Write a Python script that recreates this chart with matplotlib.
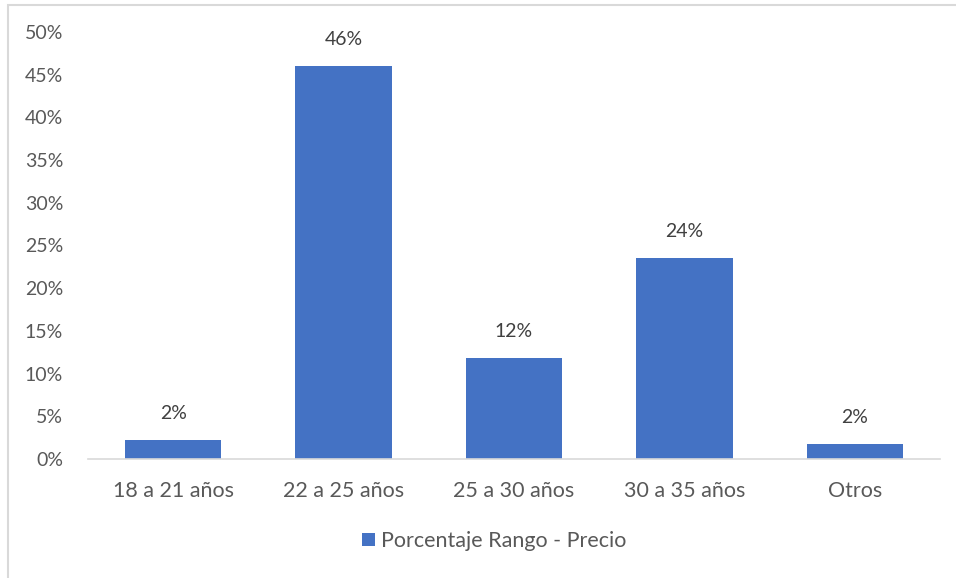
import matplotlib.pyplot as plt
from matplotlib.patches import Rectangle

# Datos del gráfico
categorias = ['18 a 21 años', '22 a 25 años', '25 a 30 años', '30 a 35 años', 'Otros']
porcentajes = [2.2, 46.0, 11.8, 23.5, 1.8]
serie = 'Porcentaje Rango - Precio'
ticks_y = [0, 5, 10, 15, 20, 25, 30, 35, 40, 45, 50]

plt.rcParams['font.family'] = ['Lato', 'DejaVu Sans']
gris = '#595959'
azul = '#4472C4'

fig = plt.figure(figsize=(9.56, 5.78), dpi=100)

# Marco gris claro del área del gráfico
fig.patches.append(Rectangle((8 / 956, -0.05), 1.0, 1 - 4.5 / 578 + 0.05,
                             transform=fig.transFigure, fill=False,
                             edgecolor='#D9D9D9', linewidth=1.5))

ax = fig.add_axes([88 / 956, 1 - 459 / 578, (940 - 88) / 956, (459 - 32) / 578])
x = range(len(categorias))
barras = ax.bar(x, porcentajes, width=0.565, color=azul, label=serie)

for b, v in zip(barras, porcentajes):
    ax.text(b.get_x() + b.get_width() / 2, v + 2.1, '{:.0f}%'.format(v),
            ha='center', va='bottom', fontsize=14, color='#404040')

ax.set_xlim(-0.5, len(categorias) - 0.5)
ax.set_ylim(0, 50)
ax.set_yticks(ticks_y)
ax.set_yticklabels(['{}%'.format(t) for t in ticks_y])
ax.set_xticks(list(x))
ax.set_xticklabels(categorias)
ax.tick_params(axis='y', length=0, colors=gris, labelsize=14, pad=18)
ax.tick_params(axis='x', length=0, colors=gris, labelsize=15.5, pad=16)

for s in ['top', 'right', 'left']:
    ax.spines[s].set_visible(False)
ax.spines['bottom'].set_color('#D9D9D9')
ax.spines['bottom'].set_linewidth(1.2)

leg = fig.legend(handles=[barras], labels=[serie], loc='center',
                 bbox_to_anchor=(494 / 956, 1 - 541 / 578), frameon=False,
                 fontsize=15.5, handlelength=0.6, handleheight=0.6,
                 handletextpad=0.3)
for t in leg.get_texts():
    t.set_color(gris)

fig.savefig('out.png', dpi=100)
